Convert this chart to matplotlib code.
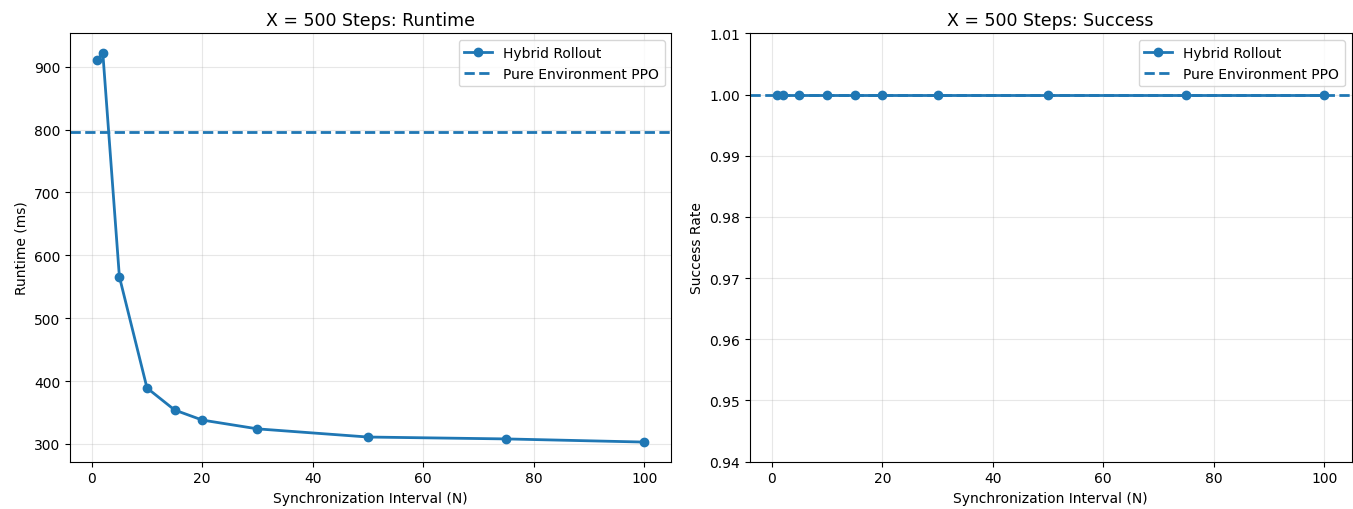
import numpy as np
import matplotlib.pyplot as plt

# Synchronization interval sweep at X = 500 steps
sync_interval = [1, 2, 5, 10, 15, 20, 30, 50, 75, 100]
runtime_ms = [911, 922, 566, 389, 354, 338, 324, 311, 308, 303]
success_rate = [1.0, 1.0, 1.0, 1.0, 1.0, 1.0, 1.0, 1.0, 1.0, 1.0]

# Pure environment PPO baseline
ppo_runtime_ms = 797
ppo_success = 1.0

color = "#1f77b4"

fig, (ax1, ax2) = plt.subplots(1, 2, figsize=(13.53, 5.1), dpi=100)
fig.subplots_adjust(left=0.0517, right=0.9989, bottom=0.0931, top=0.9324,
                    wspace=0.1305)

# Runtime
ax1.plot(sync_interval, runtime_ms, marker="o", color=color, linewidth=2,
         markersize=6, label="Hybrid Rollout")
ax1.axhline(ppo_runtime_ms, color=color, linestyle="--", linewidth=2,
            label="Pure Environment PPO")
ax1.set_title("X = 500 Steps: Runtime", fontsize=12.5)
ax1.set_xlabel("Synchronization Interval (N)")
ax1.set_ylabel("Runtime (ms)")
ax1.grid(True, alpha=0.3)
ax1.legend(loc="upper right")

# Success rate
ax2.plot(sync_interval, success_rate, marker="o", color=color, linewidth=2,
         markersize=6, label="Hybrid Rollout")
ax2.axhline(ppo_success, color=color, linestyle="--", linewidth=2,
            label="Pure Environment PPO")
ax2.set_title("X = 500 Steps: Success", fontsize=12.5)
ax2.set_xlabel("Synchronization Interval (N)")
ax2.set_ylabel("Success Rate")
ax2.set_ylim(0.94, 1.01)
ax2.grid(True, alpha=0.3)
ax2.legend(loc="upper right")

plt.savefig("out.png")
